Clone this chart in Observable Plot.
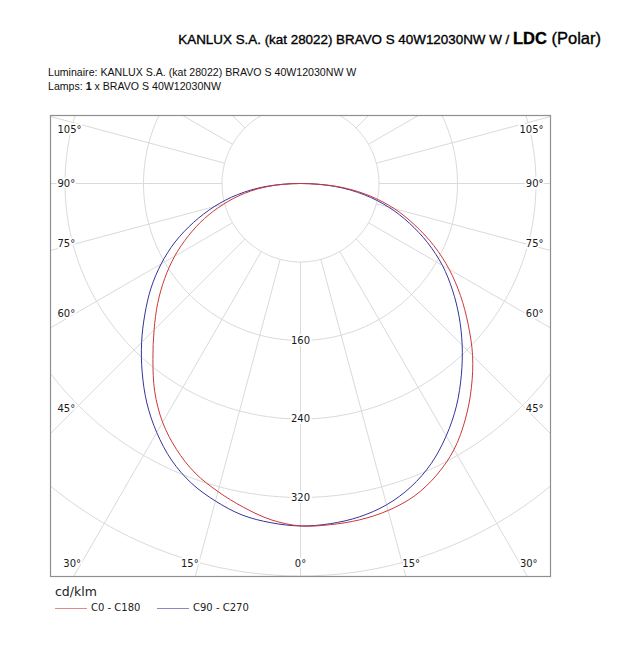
<!DOCTYPE html>
<html>
<head>
<meta charset="utf-8">
<script src="https://cdn.jsdelivr.net/npm/d3@7"></script>
<script src="https://cdn.jsdelivr.net/npm/@observablehq/plot@0.6"></script>
<style>
  html, body { margin: 0; padding: 0; background: #fff; }
  body { width: 627px; height: 645px; position: relative; overflow: hidden; font-family: "Liberation Sans", Arial, sans-serif; color: #000; }
  #title { position: absolute; top: 29px; right: 26px; white-space: nowrap; font-size: 13.4px; line-height: 18px; -webkit-text-stroke: 0.35px #000; }
  #title .big { font-size: 16.5px; }
  #sub { position: absolute; top: 65px; left: 48px; font-size: 10.6px; line-height: 14px; white-space: nowrap; color: #111; }
  #chart { position: absolute; top: 100px; left: 0; }
  #legend { position: absolute; top: 582px; left: 55px; font-family: "DejaVu Sans", sans-serif; color: #222; }
  #legend .unit { font-size: 12.5px; line-height: 19px; }
  #legend .row { display: flex; align-items: center; font-size: 10px; line-height: 14px; }
  #legend .sw { display: inline-block; width: 32px; height: 0; border-top: 1px solid; margin-right: 4px; }
</style>
</head>
<body>
<div id="title">KANLUX S.A. (kat 28022) BRAVO S 40W12030NW W / <span class="big"><b>LDC</b> (Polar)</span></div>
<div id="sub">Luminaire: KANLUX S.A. (kat 28022) BRAVO S 40W12030NW W<br>Lamps: <b>1</b> x BRAVO S 40W12030NW</div>
<div id="chart"></div>
<div id="legend">
  <div class="unit">cd/klm</div>
  <div class="row">
    <span class="sw" style="border-color:#e08a8a"></span><span style="width:66px">C0 - C180</span>
    <span class="sw" style="border-color:#8a8ac4"></span><span>C90 - C270</span>
  </div>
</div>
<script>
// ---- data (cd/klm), gamma angles in degrees ----
const gammaAngles = [0, 5, 10, 15, 20, 25, 30, 35, 40, 45, 50, 55, 60, 65, 70, 75, 80, 85, 90];
const c0Values   = [349, 349, 348, 345, 339, 328, 313, 293, 271, 248, 223, 199, 175, 150, 124, 99, 71, 40, 0];
const c180Values = [349, 344, 335, 325, 314, 299, 281, 259, 234, 211, 190, 169, 148, 126, 104, 81, 58, 32, 0];
const c90Values  = [349, 348, 345, 339, 329, 315, 297, 277, 255, 233, 211, 189, 167, 143, 118, 93, 66, 36, 0];
const c270Values = [349, 347, 343, 335, 325, 311, 293, 273, 251, 229, 207, 186, 164, 141, 116, 91, 65, 36, 0];

const gridRadii = [80, 160, 240, 320, 400, 480];
const radiusLabels = [160, 240, 320];
const rayAngles = [0, 15, 30, 45, 60, 75, 90, 105, 120, 135, 150, 165, 180];
const sideLabelAngles = [45, 60, 75, 90, 105];
const bottomLabelAngles = [0, 15, 30];

const seriesNames = ["C0 - C180", "C90 - C270"];
const seriesColors = ["#cc3838", "#34349a"];

// ---- geometry of the picture ----
const k = 78.5 / 80;              // px per cd/klm
const W = 627, H = 480;
const mL = 50, mR = 77, mT = 15, mB = 4;
const cxPx = 300, cyPx = 83;      // lamp centre inside svg
const xDomain = [-(cxPx - mL) / k, (W - mR - cxPx) / k];
const yDomain = [-(H - mB - cyPx) / k, (cyPx - mT) / k];

const rad = d => d * Math.PI / 180;
const pt = (I, g, side) => ({ x: side * I * Math.sin(rad(g)), y: -I * Math.cos(rad(g)) });

function curve(leftVals, rightVals, name) {
  const pts = [];
  for (let i = gammaAngles.length - 1; i >= 0; i--) pts.push({ ...pt(leftVals[i], gammaAngles[i], -1), s: name });
  for (let i = 1; i < gammaAngles.length; i++) pts.push({ ...pt(rightVals[i], gammaAngles[i], 1), s: name });
  // drop a closing point that repeats the first one (curve is drawn closed)
  const f = pts[0], l = pts[pts.length - 1];
  if (Math.abs(f.x - l.x) < 1e-9 && Math.abs(f.y - l.y) < 1e-9) pts.pop();
  return pts;
}
const redCurve = curve(c180Values, c0Values, seriesNames[0]);
const blueCurve = curve(c270Values, c90Values, seriesNames[1]);

const circles = gridRadii.flatMap(r => d3.range(0, 361, 2).map(a => ({ r, x: r * Math.sin(rad(a)), y: r * Math.cos(rad(a)) })));
const rays = rayAngles.flatMap(g => [-1, 1].map(s => ({
  x1: s * 80 * Math.sin(rad(g)), y1: -80 * Math.cos(rad(g)),
  x2: s * 700 * Math.sin(rad(g)), y2: -700 * Math.cos(rad(g))
})));

const sideLabels = sideLabelAngles.flatMap(g => {
  let off = 225 * Math.cos(rad(g)) / Math.sin(rad(g)); // px below centre
  off = Math.max(off, -54);
  return [
    { x: (57 - cxPx) / k, y: -off / k, t: g + "°", a: "start" },
    { x: (543 - cxPx) / k, y: -off / k, t: g + "°", a: "end" }
  ];
});
const bottomLabels = bottomLabelAngles.flatMap(g => {
  const yb = -380 / k;
  if (g === 0) return [{ x: 0, y: yb, t: "0°", a: "middle" }];
  const dx = 380 * Math.tan(rad(g)) / k;
  return [
    { x: -dx, y: yb, t: g + "°", a: "end" },
    { x: dx, y: yb, t: g + "°", a: "start" }
  ];
});
const angleLabels = sideLabels.concat(bottomLabels);

const gridColor = "#dadada";
const labelOpts = { fill: "#1a1a1a", stroke: "white", strokeWidth: 4, paintOrder: "stroke", fontSize: 10 };

const plot = Plot.plot({
  width: W, height: H,
  marginLeft: mL, marginRight: mR, marginTop: mT, marginBottom: mB,
  x: { domain: xDomain, axis: null },
  y: { domain: yDomain, axis: null },
  style: { fontFamily: "DejaVu Sans, sans-serif", fontSize: "10px", background: "white" },
  marks: [
    Plot.line(circles, { x: "x", y: "y", z: "r", stroke: gridColor, strokeWidth: 1, clip: true }),
    Plot.link(rays, { x1: "x1", y1: "y1", x2: "x2", y2: "y2", stroke: gridColor, strokeWidth: 1, clip: true }),
    Plot.text(radiusLabels, { x: () => 0, y: d => -d, text: d => String(d), ...labelOpts }),
    Plot.text(angleLabels.filter(d => d.a === "start"), { x: "x", y: "y", text: "t", textAnchor: "start", ...labelOpts }),
    Plot.text(angleLabels.filter(d => d.a === "end"), { x: "x", y: "y", text: "t", textAnchor: "end", ...labelOpts }),
    Plot.text(angleLabels.filter(d => d.a === "middle"), { x: "x", y: "y", text: "t", textAnchor: "middle", ...labelOpts }),
    Plot.line(blueCurve, { x: "x", y: "y", stroke: seriesColors[1], strokeWidth: 1, curve: "catmull-rom-closed" }),
    Plot.line(redCurve, { x: "x", y: "y", stroke: seriesColors[0], strokeWidth: 1, curve: "catmull-rom-closed" }),
    Plot.frame({ stroke: "#8f8f8f", strokeWidth: 1.2 })
  ]
});
document.getElementById("chart").appendChild(plot);
</script>
</body>
</html>
